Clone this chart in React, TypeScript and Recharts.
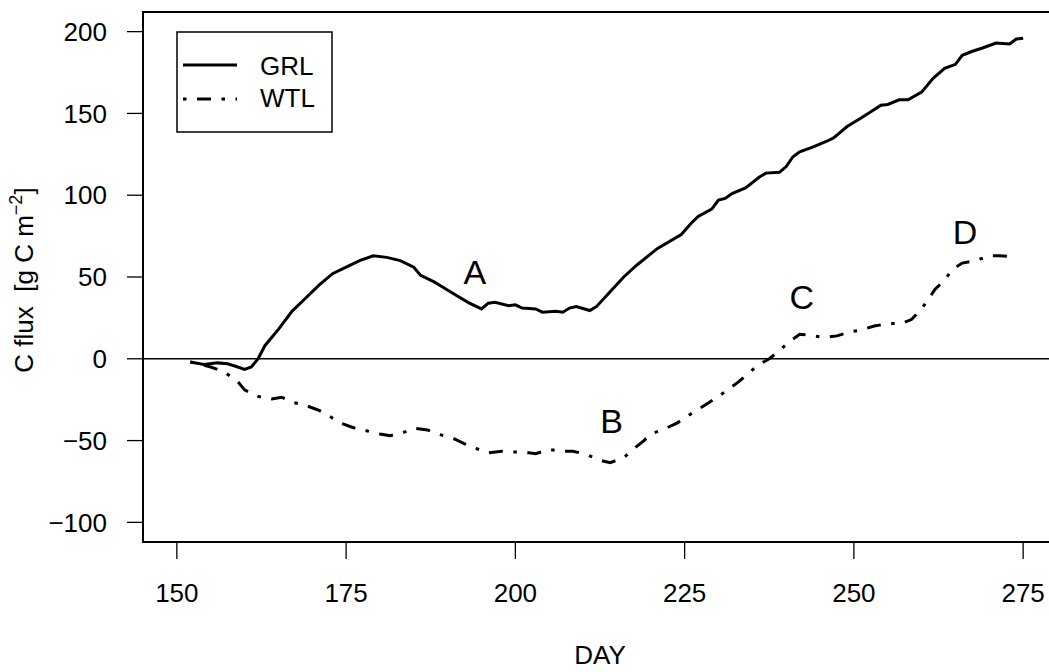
import { LineChart, Line, XAxis, YAxis, ReferenceLine, ReferenceArea, ReferenceDot, Label } from 'recharts'

// cumulative C flux
const grlDay = [152, 154, 156, 157.5, 159, 160, 161, 162, 163, 165, 167, 169, 171, 173, 175, 177, 179, 181, 183, 185, 186, 188, 189, 191, 193, 195, 196, 197, 199, 200, 201, 203, 204, 206, 207, 208, 209, 211, 212, 214, 216, 218, 221, 224.5, 226, 227, 229, 230, 231, 232, 234, 236, 237, 239, 240, 241, 242, 244, 246, 247, 249, 251, 252.5, 254, 255, 256.7, 258, 260, 261.7, 263.4, 265, 266, 267.5, 269, 271, 273, 274, 275]
const grlFlux = [-2, -3.5, -2.5, -3, -5, -6.5, -5, 0, 8, 18, 29, 37, 45, 52, 56, 60, 63, 62, 60, 56, 51, 47, 44.5, 39.5, 34.5, 30.5, 34, 34.5, 32.5, 33, 31, 30.5, 28.5, 29, 28.5, 31, 32, 29.5, 32, 41, 50, 57.5, 67.5, 76, 83, 87, 91.5, 97, 98, 101, 104.5, 111, 113.5, 114, 117.5, 123.5, 126.5, 129.5, 133, 135, 142, 147, 151, 155, 155.5, 158.3, 158.3, 163, 171.5, 177.5, 180, 185.5, 188, 190, 193, 192.5, 195.5, 196]

const wtlDay = [152, 155, 157, 159, 160, 162, 164, 165.5, 167, 169, 171, 172.5, 174, 176, 178, 180, 181.5, 183.5, 185, 187, 189, 191, 192.5, 194, 196, 198, 200, 202, 203, 205, 207, 208.5, 210.5, 212.5, 214, 216, 217.5, 219, 220, 222, 224, 225, 227, 228.5, 230, 231.5, 233, 234.5, 236, 237.5, 239, 240.5, 242, 243.5, 245.5, 247.5, 249.5, 251, 253, 255, 257, 258.5, 260, 261, 262, 263.5, 264.5, 266, 268, 270, 271.5, 273.5]
const wtlFlux = [-2, -5, -8, -14, -19, -23, -24.5, -23.5, -26.5, -28.5, -31.5, -35, -39, -42, -44, -46, -47, -45, -42.5, -43.5, -46.5, -49, -52, -54.5, -57.5, -56.5, -57, -57.5, -58, -55.5, -56.5, -56.5, -58.5, -62, -63.5, -60.5, -55, -50, -46, -43, -39, -36, -31, -27, -23, -18.5, -14, -8.5, -3.5, 0, 5, 10.5, 15, 14.5, 13, 14, 16.5, 17.5, 20, 21.5, 21.5, 24, 30.5, 36.5, 42.5, 48.5, 54.5, 58.5, 60, 63, 63, 62.5]

const xTicks = [150, 175, 200, 225, 250, 275]
const yTicks = [-100, -50, 0, 50, 100, 150, 200]

const markerText = ['A', 'B', 'C', 'D']
const markerDay = [194, 214.2, 242.3, 266.4]
const markerFlux = [53, -38, 37.6, 77.3]

const grlData = grlDay.map((d, i) => ({ day: d, flux: grlFlux[i] }))
const wtlData = wtlDay.map((d, i) => ({ day: d, flux: wtlFlux[i] }))

const FONT = '"Liberation Sans", Arial, Helvetica, sans-serif'
const DOTDASH = '3.5 10.5 14 10.5'

const fmt = (v: number) => (v < 0 ? '\u2212' + Math.abs(v) : String(v))

export default function App() {
  return (
    <div style={{ position: 'fixed', left: 0, top: 0, width: 1049, height: 672, overflow: 'hidden', background: '#fff', fontFamily: FONT }}>
      <LineChart width={1070} height={672} margin={{ top: 12, right: 13, left: 0, bottom: 0 }}>
        <XAxis
          dataKey="day"
          type="number"
          domain={[145, 280]}
          allowDataOverflow
          ticks={xTicks}
          axisLine={false}
          tickSize={17}
          tickMargin={25}
          height={130}
          tickLine={{ stroke: '#000', strokeWidth: 1.3 }}
          tick={{ fill: '#000', fontSize: 26, fontFamily: FONT }}
        />
        <YAxis
          dataKey="flux"
          type="number"
          domain={[-112, 212]}
          allowDataOverflow
          ticks={yTicks}
          tickFormatter={fmt}
          axisLine={false}
          width={143}
          tickSize={16}
          tickMargin={20}
          tickLine={{ stroke: '#000', strokeWidth: 1.3 }}
          tick={{ fill: '#000', fontSize: 26, fontFamily: FONT }}
        />
        <ReferenceArea x1={145} x2={280} y1={-112} y2={212} fill="none" stroke="#000" strokeWidth={2} fillOpacity={0} />
        <ReferenceLine y={0} stroke="#000" strokeWidth={1.4} />
        <Line data={grlData} dataKey="flux" type="linear" stroke="#000" strokeWidth={3} dot={false} isAnimationActive={false} />
        <Line data={wtlData} dataKey="flux" type="linear" stroke="#000" strokeWidth={3} strokeDasharray={DOTDASH} dot={false} isAnimationActive={false} />
        {markerText.map((t, i) => (
          <ReferenceDot key={t} x={markerDay[i]} y={markerFlux[i]} r={0} fill="none" stroke="none">
            <Label value={t} position="center" fontSize={34} fill="#000" fontFamily={FONT} />
          </ReferenceDot>
        ))}
      </LineChart>
      <svg width={1049} height={672} style={{ position: 'absolute', left: 0, top: 0, pointerEvents: 'none' }}>
        <rect x={177} y={32} width={155} height={100} fill="#fff" stroke="#000" strokeWidth={1.5} />
        <line x1={183} x2={237} y1={65} y2={65} stroke="#000" strokeWidth={3} />
        <line x1={183} x2={237} y1={99} y2={99} stroke="#000" strokeWidth={3} strokeDasharray={DOTDASH} />
        <text x={260} y={75} fontSize={26} fontFamily={FONT} fill="#000">GRL</text>
        <text x={260} y={107} fontSize={26} fontFamily={FONT} fill="#000">WTL</text>
        <text x={600} y={664} fontSize={26} fontFamily={FONT} fill="#000" textAnchor="middle">DAY</text>
        <text transform="translate(33,280) rotate(-90)" fontSize={26} fontFamily={FONT} fill="#000" textAnchor="middle" style={{ whiteSpace: 'pre' }}>
          C flux  [g C m<tspan dy={-11} fontSize={18}>{'\u22122'}</tspan><tspan dy={11}>]</tspan>
        </text>
      </svg>
    </div>
  )
}
